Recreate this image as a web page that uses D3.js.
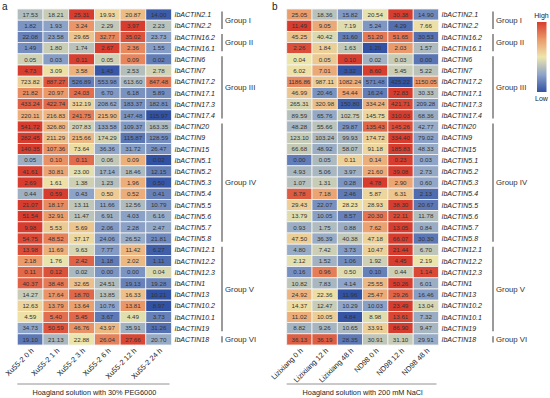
<!DOCTYPE html>
<html><head><meta charset="utf-8">
<script src="https://cdn.jsdelivr.net/npm/d3@7/dist/d3.min.js"></script>
<style>
body{margin:0;background:#fff;}
svg{display:block;font-family:"Liberation Sans",Arial,sans-serif;}
</style></head>
<body>
<svg id="chart" width="550" height="398"></svg>
<script>
const genes = ["IbACTIN2.1","IbACTIN2.2","IbACTIN16.2","IbACTIN16.1","IbACTIN6","IbACTIN7","IbACTIN17.2","IbACTIN17.1","IbACTIN17.3","IbACTIN17.4","IbACTIN20","IbACTIN9","IbACTIN15","IbACTIN5.1","IbACTIN5.2","IbACTIN5.3","IbACTIN5.4","IbACTIN5.5","IbACTIN5.6","IbACTIN5.7","IbACTIN5.8","IbACTIN12.1","IbACTIN12.2","IbACTIN12.3","IbACTIN1","IbACTIN13","IbACTIN10.2","IbACTIN10.1","IbACTIN19","IbACTIN18"];
const groupNames = ["Group I","Group II","Group III","Group IV","Group V","Group VI"];
const groupFirst = ["IbACTIN2.1","IbACTIN16.2","IbACTIN6","IbACTIN20","IbACTIN12.1","IbACTIN18"];
const groupLast  = ["IbACTIN2.2","IbACTIN16.1","IbACTIN17.4","IbACTIN5.8","IbACTIN19","IbACTIN18"];

const colsA = ["Xu55-2 0 h","Xu55-2 1 h","Xu55-2 3 h","Xu55-2 6 h","Xu55-2 12 h","Xu55-2 24 h"];
const colsB = ["Lizixiang 0 h","Lizixiang 12 h","Lizixiang 48 h","ND98 0 h","ND98 12 h","ND98 48 h"];
const titleA = "Hoagland solution with 30% PEG6000";
const titleB = "Hoagland solution with 200 mM NaCl";

const valuesA = [
[17.53,18.21,25.31,19.93,20.87,14.00],
[1.82,1.93,3.24,2.29,3.97,2.23],
[22.08,23.58,29.65,32.77,35.02,23.73],
[1.49,1.80,1.74,2.67,2.36,1.55],
[0.05,0.03,0.11,0.05,0.09,0.02],
[4.73,3.09,3.58,1.43,2.53,2.78],
[723.82,887.27,526.89,553.98,613.60,847.48],
[21.82,20.97,24.03,6.70,6.18,5.89],
[433.24,422.74,312.19,208.62,183.37,182.81],
[220.11,216.83,241.75,215.90,147.48,115.97],
[541.72,326.80,207.83,133.58,109.37,163.35],
[282.45,211.29,215.66,174.29,115.87,128.59],
[140.35,107.36,73.64,36.36,31.72,26.47],
[0.05,0.10,0.11,0.06,0.09,0.02],
[41.61,30.81,23.00,17.14,18.46,12.15],
[2.69,1.61,1.38,1.23,1.96,0.50],
[0.44,0.59,0.43,0.50,0.52,0.41],
[21.07,18.17,13.11,11.66,12.56,10.79],
[51.54,32.91,11.47,6.91,4.03,6.16],
[9.98,5.53,5.69,2.06,2.28,2.47],
[54.75,48.52,37.17,24.06,26.52,21.81],
[13.98,11.69,9.63,7.77,11.42,6.27],
[2.18,1.76,2.42,1.18,2.02,1.11],
[0.11,0.12,0.02,0.00,0.00,0.04],
[40.37,38.48,32.65,24.51,19.13,19.28],
[14.27,17.64,18.70,13.85,16.33,10.21],
[12.63,13.79,13.64,10.76,13.81,8.97],
[4.59,5.40,5.45,3.67,4.49,3.73],
[34.73,50.59,46.76,43.97,35.91,31.26],
[19.10,21.13,22.88,26.04,27.66,20.70]
];
const valuesB = [
[25.05,18.36,15.82,20.54,30.38,14.90],
[11.49,9.05,7.19,5.24,4.29,7.66],
[45.25,40.42,31.60,51.20,51.65,30.53],
[2.26,1.84,1.63,1.20,2.03,1.57],
[0.04,0.05,0.10,0.02,0.03,0.00],
[6.02,7.01,3.32,8.60,5.45,5.22],
[1186.86,987.11,1082.24,571.48,425.22,1150.05],
[46.99,20.46,54.44,16.24,72.83,30.33],
[265.31,320.98,150.80,334.24,421.71,209.28],
[89.59,65.76,102.75,145.75,310.03,68.36],
[48.28,55.66,29.87,135.43,145.26,42.77],
[123.10,103.24,99.93,174.72,334.40,79.02],
[66.68,48.92,58.07,91.18,185.83,48.33],
[0.00,0.05,0.11,0.14,0.23,0.03],
[4.93,5.06,3.97,21.60,39.08,2.73],
[1.07,1.31,0.28,4.78,2.90,0.60],
[8.78,7.18,2.46,5.87,6.31,2.13],
[29.43,22.07,28.23,28.93,38.30,20.67],
[13.79,10.05,8.57,20.30,22.11,11.78],
[0.93,1.75,0.88,7.62,13.05,0.84],
[47.50,36.39,40.38,47.18,66.07,30.30],
[4.80,7.42,3.73,10.47,21.44,6.70],
[2.12,1.52,1.06,1.92,4.45,2.19],
[0.16,0.96,0.50,0.10,0.44,1.14],
[10.82,7.83,4.14,25.55,50.26,6.01],
[24.92,22.36,11.96,25.47,29.26,16.46],
[14.37,12.47,10.29,10.03,23.49,13.04],
[11.02,10.05,4.84,8.98,13.61,7.32],
[8.82,9.26,10.65,33.91,86.90,9.47],
[36.13,36.19,28.35,30.91,31.10,29.91]
];
const legendLabels = ["High","Low"];

const svg = d3.select("#chart");
const color = d3.scaleLinear()
  .domain([-1.5,-0.75,0,0.75,1.5])
  .range(["#3151a3","#8ea4c8","#ede6ab","#eb9a6a","#d73d2e"])
  .clamp(true);

const y = d3.scaleBand().domain(genes).range([9, 345]);

function zrow(r){
  const m = d3.mean(r), s = d3.deviation(r) || 1;
  return r.map(v => (v - m) / s);
}

function panel(cfg){
  const g = svg.append("g");
  const x = d3.scaleBand().domain(cfg.cols).range([cfg.x0, cfg.x1]);
  cfg.values.forEach((row, i) => {
    const z = zrow(row);
    row.forEach((v, j) => {
      g.append("rect")
        .attr("x", x(cfg.cols[j])).attr("y", y(genes[i]))
        .attr("width", x.bandwidth()).attr("height", y.bandwidth())
        .attr("fill", color(z[j]))
        .attr("stroke", "#f4f4f4").attr("stroke-width", 0.8);
      g.append("text")
        .attr("x", x(cfg.cols[j]) + x.bandwidth()/2)
        .attr("y", y(genes[i]) + y.bandwidth()/2 + 2.1)
        .attr("text-anchor", "middle")
        .attr("font-size", 6.2).attr("fill", "#333")
        .text(v.toFixed(2));
    });
  });
  genes.forEach(gn => {
    g.append("text")
      .attr("x", cfg.x1 + 3).attr("y", y(gn) + y.bandwidth()/2 + 2.5)
      .attr("font-size", 7).attr("font-style", "italic").attr("fill", "#222")
      .text(gn);
  });
  groupNames.forEach((gname, k) => {
    const top = y(groupFirst[k]) + 2.5;
    const bot = y(groupLast[k]) + y.bandwidth() - 2.5;
    g.append("line").attr("x1", cfg.gx).attr("x2", cfg.gx)
      .attr("y1", top).attr("y2", bot)
      .attr("stroke", "#9a9a9a").attr("stroke-width", 2);
    g.append("text").attr("x", cfg.gx + 3).attr("y", (top + bot)/2 + 2.8)
      .attr("font-size", 7.8).attr("fill", "#333").text(gname);
  });
  cfg.cols.forEach(c => {
    const cx = x(c) + x.bandwidth()/2 + 4;
    g.append("text")
      .attr("transform", `translate(${cx},${351}) rotate(-45)`)
      .attr("text-anchor", "end")
      .attr("font-size", 7.4).attr("fill", "#222").text(c);
  });
  g.append("line").attr("x1", cfg.x0).attr("x2", cfg.x1 - 2)
    .attr("y1", 384).attr("y2", 384).attr("stroke", "#777").attr("stroke-width", 0.8);
  g.append("text").attr("x", (cfg.x0 + cfg.x1)/2).attr("y", 394.5)
    .attr("text-anchor", "middle").attr("font-size", 7.3).attr("fill", "#222").text(cfg.title);
  g.append("text").attr("x", cfg.lx).attr("y", 10).attr("font-size", 10).attr("fill", "#222").text(cfg.letter);
}

panel({cols: colsA, values: valuesA, x0: 17.3, x1: 171.5, gx: 222, title: titleA, letter: "a", lx: 2});
panel({cols: colsB, values: valuesB, x0: 286.7, x1: 438.5, gx: 493, title: titleB, letter: "b", lx: 272});

const defs = svg.append("defs");
const grad = defs.append("linearGradient").attr("id", "lg").attr("x1", 0).attr("x2", 0).attr("y1", 1).attr("y2", 0);
const ls = d3.scaleLinear().domain([0, 1]).range([-1.5, 1.5]);
d3.range(0, 1.0001, 0.05).forEach(t => {
  grad.append("stop").attr("offset", t).attr("stop-color", color(ls(t)));
});
svg.append("rect").attr("x", 537).attr("y", 22).attr("width", 9.5).attr("height", 70).attr("fill", "url(#lg)");
svg.append("text").attr("x", 541.5).attr("y", 17.5).attr("text-anchor", "middle").attr("font-size", 7).attr("fill", "#222").text(legendLabels[0]);
svg.append("text").attr("x", 541.5).attr("y", 101).attr("text-anchor", "middle").attr("font-size", 7).attr("fill", "#222").text(legendLabels[1]);
</script>
</body></html>
